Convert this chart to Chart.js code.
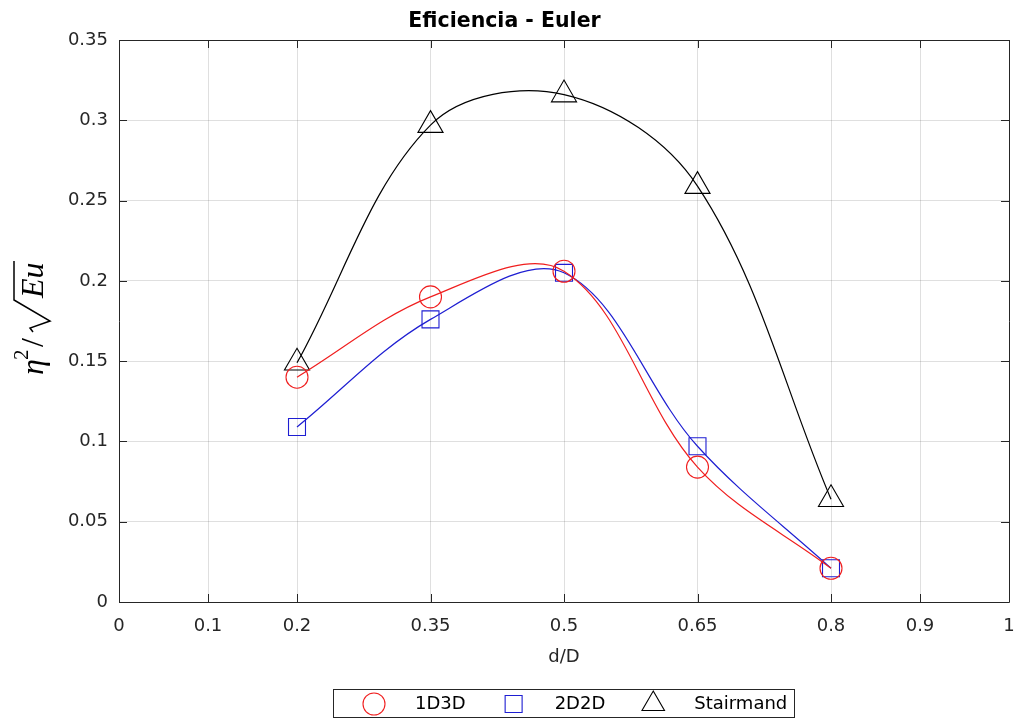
<!DOCTYPE html>
<html>
<head>
<meta charset="utf-8">
<script src="https://cdn.jsdelivr.net/npm/chart.js@4.4.1/dist/chart.umd.min.js"></script>
<style>
  html, body { margin: 0; padding: 0; background: #ffffff; }
  canvas { display: block; }
</style>
</head>
<body>
<canvas id="chart" width="1016" height="719"></canvas>
<script>
// Relación d/D ensayada
const dD = [0.2, 0.35, 0.5, 0.65, 0.8];
// η² / √Eu para cada configuración
const eff1D3D = [0.140, 0.190, 0.206, 0.084, 0.021];
const eff2D2D = [0.109, 0.176, 0.205, 0.097, 0.021];
const effStairmand = [0.149, 0.297, 0.316, 0.259, 0.064];
const seriesNames = ['1D3D', '2D2D', 'Stairmand'];
// Marcas de los ejes
const xTicks = [0, 0.1, 0.2, 0.35, 0.5, 0.65, 0.8, 0.9, 1];
const yTicks = [0, 0.05, 0.1, 0.15, 0.2, 0.25, 0.3, 0.35];

const AXIS_COLOR = '#262626';
const GRID_COLOR = 'rgba(38,38,38,0.15)';
const FONT = '"DejaVu Sans", Verdana, sans-serif';
const SERIF = '"Liberation Serif", "Times New Roman", "DejaVu Serif", serif';

const styles = [
  { color: '#f01e1e', point: 'circle', radius: 11 },
  { color: '#1e1ed2', point: 'rect', radius: 12 },
  { color: '#000000', point: 'triangle', radius: 14.5 }
];
const seriesValues = [eff1D3D, eff2D2D, effStairmand];

const datasets = seriesValues.map((vals, i) => ({
  label: seriesNames[i],
  data: dD.map((x, k) => ({ x: x, y: vals[k] })),
  borderColor: styles[i].color,
  borderWidth: 1.2,
  backgroundColor: 'rgba(0,0,0,0)',
  pointStyle: styles[i].point,
  pointRadius: styles[i].radius,
  pointHoverRadius: styles[i].radius,
  pointBorderColor: styles[i].color,
  pointBackgroundColor: 'rgba(0,0,0,0)',
  pointBorderWidth: 1.1,
  tension: 0.35,
  fill: false
}));

// Caja completa del eje con marcas hacia dentro en los cuatro lados
const axesBox = {
  id: 'axesBox',
  beforeDatasetsDraw(chart) {
    const { ctx, chartArea: a, scales } = chart;
    const tl = 8;
    ctx.save();
    ctx.strokeStyle = AXIS_COLOR;
    ctx.lineWidth = 1;
    ctx.beginPath();
    scales.x.ticks.forEach(t => {
      const px = Math.round(scales.x.getPixelForValue(t.value)) + 0.5;
      ctx.moveTo(px, a.bottom); ctx.lineTo(px, a.bottom - tl);
      ctx.moveTo(px, a.top); ctx.lineTo(px, a.top + tl);
    });
    scales.y.ticks.forEach(t => {
      const py = Math.round(scales.y.getPixelForValue(t.value)) + 0.5;
      ctx.moveTo(a.left, py); ctx.lineTo(a.left + tl, py);
      ctx.moveTo(a.right, py); ctx.lineTo(a.right - tl, py);
    });
    ctx.stroke();
    ctx.beginPath();
    ctx.rect(Math.round(a.left) + 0.5, Math.round(a.top) + 0.5,
             Math.round(a.right - a.left), Math.round(a.bottom - a.top));
    ctx.stroke();
    ctx.restore();
  }
};

function drawMarker(ctx, style, x, y, r) {
  ctx.beginPath();
  if (style === 'circle') {
    ctx.arc(x, y, r, 0, Math.PI * 2);
  } else if (style === 'rect') {
    const s = r * Math.SQRT1_2;
    ctx.rect(x - s, y - s, 2 * s, 2 * s);
  } else {
    ctx.moveTo(x, y - r);
    ctx.lineTo(x + r * 0.866, y + r * 0.5);
    ctx.lineTo(x - r * 0.866, y + r * 0.5);
    ctx.closePath();
  }
  ctx.stroke();
}

// Etiquetas de los ejes y leyenda inferior
const annotations = {
  id: 'annotations',
  afterDraw(chart) {
    const { ctx, chartArea: a } = chart;
    ctx.save();

    // d/D
    ctx.fillStyle = AXIS_COLOR;
    ctx.font = '18px ' + FONT;
    ctx.textAlign = 'center';
    ctx.textBaseline = 'middle';
    ctx.fillText('d/D', (a.left + a.right) / 2, 657);

    // η² / √Eu, girado 90°
    const big = 'italic 32px ' + SERIF;
    const sup = '21px ' + SERIF;
    const up = '32px ' + SERIF;
    ctx.translate(43, (a.top + a.bottom) / 2 - 2);
    ctx.rotate(-Math.PI / 2);
    ctx.fillStyle = '#000';
    ctx.strokeStyle = '#000';
    ctx.textAlign = 'left';
    ctx.textBaseline = 'alphabetic';
    ctx.font = big;
    ctx.fillText('η', -56, 0);
    ctx.font = sup;
    ctx.fillText('2', -41, -15);
    ctx.font = up;
    ctx.fillText('/', -28, 0);
    ctx.lineWidth = 1.5;
    ctx.beginPath();
    ctx.moveTo(-13, -10);
    ctx.lineTo(-9, -13);
    ctx.lineTo(-2, 7);
    ctx.lineTo(19, -29);
    ctx.lineTo(58, -29);
    ctx.stroke();
    ctx.font = big;
    ctx.fillText('Eu', 21, 0);
    ctx.setTransform(1, 0, 0, 1, 0, 0);

    // Leyenda
    const boxL = 333, boxT = 689, boxR = 794, boxB = 717;
    ctx.fillStyle = '#ffffff';
    ctx.fillRect(boxL, boxT, boxR - boxL, boxB - boxT);
    ctx.strokeStyle = AXIS_COLOR;
    ctx.lineWidth = 1;
    ctx.strokeRect(boxL + 0.5, boxT + 0.5, boxR - boxL, boxB - boxT);
    ctx.font = '18px ' + FONT;
    ctx.textAlign = 'left';
    ctx.textBaseline = 'middle';
    const cy = (boxT + boxB) / 2 + 1;
    let mx = boxL + 41;
    chart.data.datasets.forEach((ds) => {
      ctx.strokeStyle = ds.borderColor;
      ctx.lineWidth = 1.1;
      drawMarker(ctx, ds.pointStyle, mx, cy, ds.pointStyle === 'triangle' ? 13 : ds.pointRadius);
      ctx.fillStyle = '#000';
      ctx.fillText(ds.label, mx + 41, cy);
      mx = mx + 41 + ctx.measureText(ds.label).width + 48;
    });
    ctx.restore();
  }
};

new Chart(document.getElementById('chart'), {
  type: 'line',
  data: { datasets: datasets },
  options: {
    responsive: false,
    animation: false,
    devicePixelRatio: 1,
    layout: { autoPadding: false, padding: { top: 0, right: 7, bottom: 0, left: 0 } },
    plugins: {
      legend: { display: false },
      tooltip: { enabled: false },
      title: {
        display: true,
        text: 'Eficiencia - Euler',
        color: '#000000',
        font: { family: FONT, size: 20.5, weight: 'bold', lineHeight: '22px' },
        padding: { top: 11, bottom: 7 }
      }
    },
    scales: {
      x: {
        type: 'linear',
        min: 0,
        max: 1,
        afterBuildTicks: s => { s.ticks = xTicks.map(v => ({ value: v })); },
        afterFit: s => { s.height = 117; s.paddingLeft = 0; s.paddingRight = 0; },
        ticks: {
          autoSkip: false,
          maxRotation: 0,
          color: AXIS_COLOR,
          font: { family: FONT, size: 18 },
          padding: 14,
          callback: v => String(v)
        },
        grid: { color: GRID_COLOR, drawTicks: false },
        border: { display: false }
      },
      y: {
        type: 'linear',
        min: 0,
        max: 0.35,
        afterBuildTicks: s => { s.ticks = yTicks.map(v => ({ value: v })); },
        afterFit: s => { s.width = 119; s.paddingTop = 0; s.paddingBottom = 0; },
        ticks: {
          color: AXIS_COLOR,
          font: { family: FONT, size: 18 },
          padding: 11,
          callback: v => String(+v.toFixed(2))
        },
        grid: { color: GRID_COLOR, drawTicks: false },
        border: { display: false }
      }
    }
  },
  plugins: [axesBox, annotations]
});
</script>
</body>
</html>
